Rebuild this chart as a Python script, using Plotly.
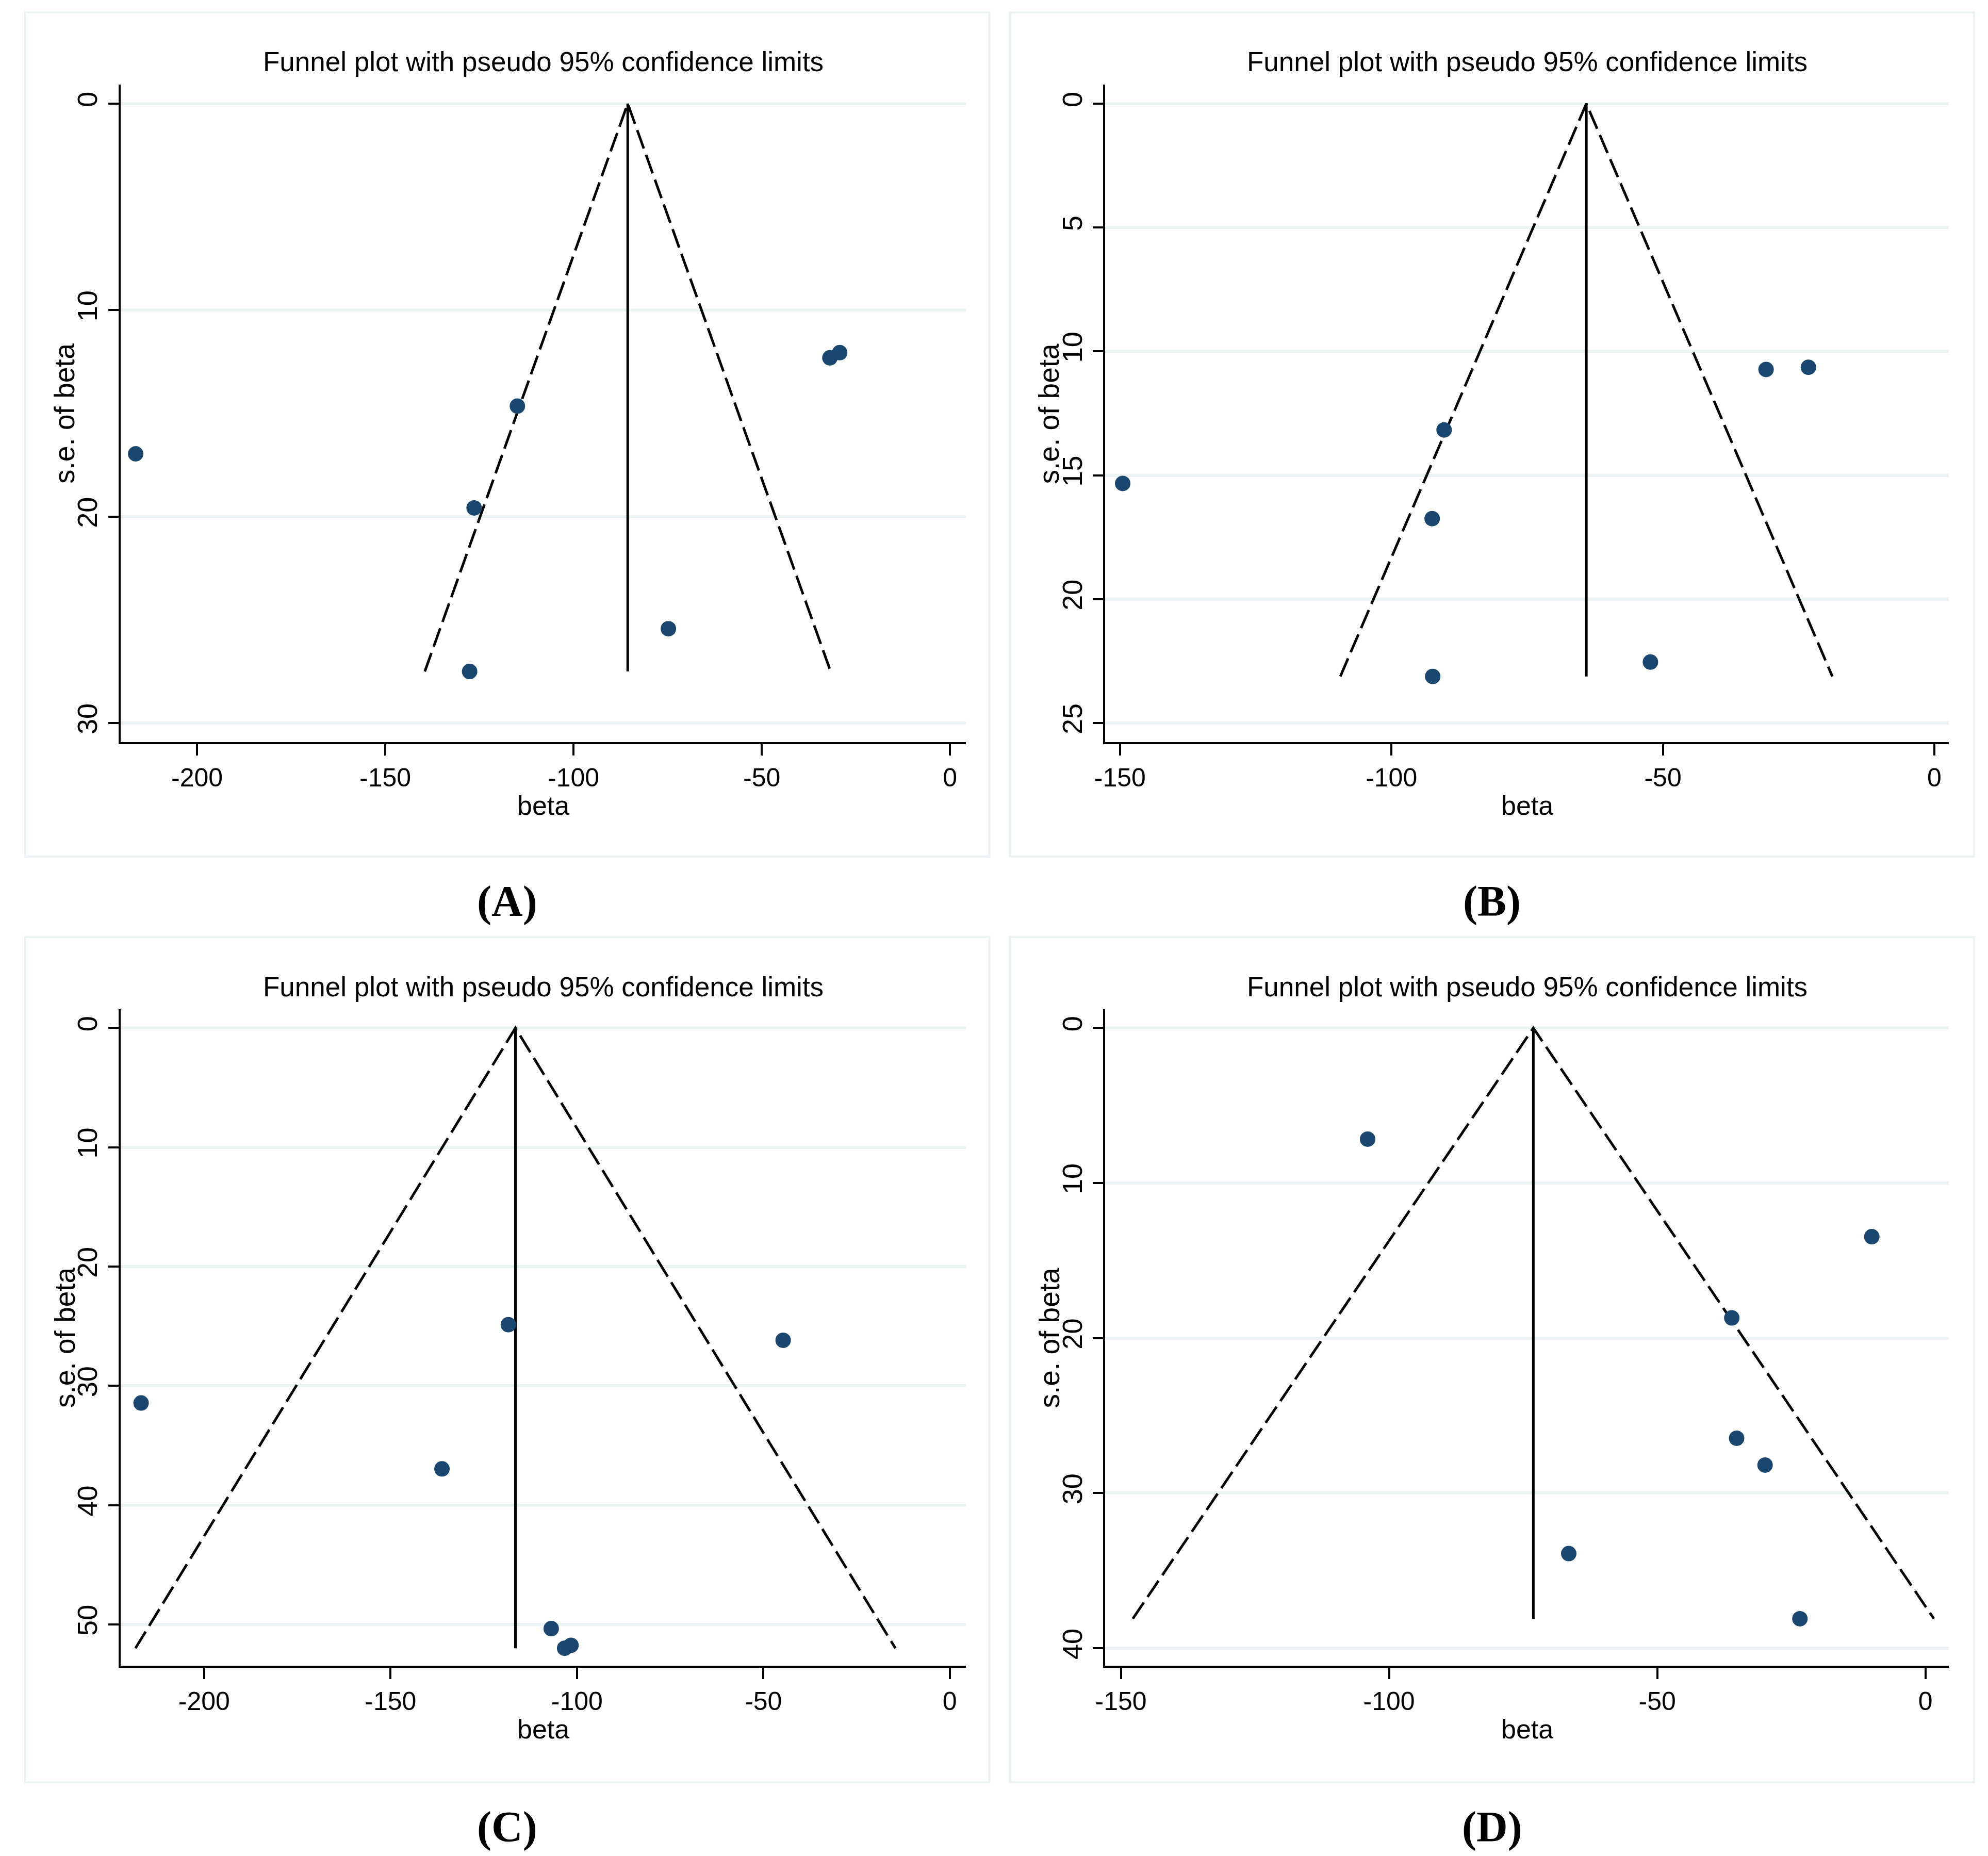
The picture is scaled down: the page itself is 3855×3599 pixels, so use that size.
import plotly.graph_objects as go

W, H = 3855, 3599

# ---------------- data ----------------
panel_labels = ["(A)", "(B)", "(C)", "(D)"]
title_text = "Funnel plot with pseudo 95% confidence limits"
x_title = "beta"
y_title = "s.e. of beta"

A_beta = [-216.3, -114.9, -126.4, -127.6, -74.8, -31.9, -29.3]
A_se = [16.96, 14.65, 19.58, 27.50, 25.43, 12.31, 12.06]
A_theta = -85.6

B_beta = [-149.5, -90.3, -92.5, -92.4, -52.3, -31.0, -23.2]
B_se = [15.33, 13.17, 16.75, 23.12, 22.54, 10.73, 10.64]
B_theta = -64.1

C_beta = [-216.9, -136.2, -118.4, -44.7, -106.9, -103.3, -101.6]
C_se = [31.44, 36.96, 24.87, 26.18, 50.35, 52.00, 51.75]
C_theta = -116.5

D_beta = [-104.0, -10.0, -36.1, -35.2, -29.9, -66.5, -23.4]
D_se = [7.17, 13.46, 18.70, 26.46, 28.19, 33.90, 38.10]
D_theta = -73.1

A_xticks = [-200, -150, -100, -50, 0]
B_xticks = [-150, -100, -50, 0]
C_xticks = [-200, -150, -100, -50, 0]
D_xticks = [-150, -100, -50, 0]
A_yticks = [0, 10, 20, 30]
B_yticks = [0, 5, 10, 15, 20, 25]
C_yticks = [0, 10, 20, 30, 40, 50]
D_yticks = [0, 10, 20, 30, 40]

z95 = 1.96

# ---------------- layout geometry (pixels) ----------------
panels = [
    dict(beta=A_beta, se=A_se, theta=A_theta, xt=A_xticks, yt=A_yticks,
         xr=[-220.3, 4.2], yr=[30.92, -0.92],
         plot=(214, 1862, 164, 1439), frame=(28, 1908, 24, 1661)),
    dict(beta=B_beta, se=B_se, theta=B_theta, xt=B_xticks, yt=B_yticks,
         xr=[-152.7, 2.7], yr=[25.77, -0.77],
         plot=(2134, 3779, 164, 1439), frame=(1948, 3828, 24, 1661)),
    dict(beta=C_beta, se=C_se, theta=C_theta, xt=C_xticks, yt=C_yticks,
         xr=[-222.4, 4.3], yr=[53.46, -1.57],
         plot=(214, 1862, 1957, 3230), frame=(28, 1908, 1817, 3456)),
    dict(beta=D_beta, se=D_se, theta=D_theta, xt=D_xticks, yt=D_yticks,
         xr=[-152.9, 4.4], yr=[41.13, -1.21],
         plot=(2134, 3779, 1957, 3230), frame=(1948, 3828, 1817, 3456)),
]

def fx(px):
    return px / W

def fy(py):
    return 1 - py / H

SANS = "Liberation Sans, Arial, Helvetica, sans-serif"
SERIF = "Liberation Serif, Times New Roman, serif"
NAVY = "#1A476F"
GRID = "#EAF2F3"

fig = go.Figure()
layout = dict(width=W, height=H, margin=dict(l=0, r=0, t=0, b=0),
              paper_bgcolor="white", plot_bgcolor="white",
              showlegend=False, hovermode=False)
shapes = []
annotations = []

for i, p in enumerate(panels):
    k = "" if i == 0 else str(i + 1)
    xa, ya = "x" + k, "y" + k
    se_max = max(p["se"])
    th = p["theta"]
    # pseudo 95% limits (dashed)
    fig.add_trace(go.Scatter(
        x=[th - z95 * se_max, th, th + z95 * se_max], y=[se_max, 0, se_max],
        mode="lines", line=dict(color="black", width=5, dash="38px,13px"),
        xaxis=xa, yaxis=ya))
    # pooled estimate (solid vertical)
    fig.add_trace(go.Scatter(
        x=[th, th], y=[0, se_max], mode="lines",
        line=dict(color="black", width=5), xaxis=xa, yaxis=ya))
    # studies
    fig.add_trace(go.Scatter(
        x=p["beta"], y=p["se"], mode="markers",
        marker=dict(color=NAVY, size=30, line=dict(width=0)),
        xaxis=xa, yaxis=ya))

    l, r, t, b = p["plot"]
    layout["xaxis" + k] = dict(
        domain=[fx(l), fx(r)], range=p["xr"], anchor=ya,
        showline=True, linecolor="black", linewidth=4,
        ticks="outside", ticklen=22, tickwidth=4, tickcolor="black",
        tickvals=p["xt"], ticktext=[str(v) for v in p["xt"]],
        showgrid=False, zeroline=False,
        tickfont=dict(family=SANS, size=50, color="black"),
        ticklabelstandoff=0, fixedrange=True)
    layout["yaxis" + k] = dict(
        domain=[fy(b), fy(t)], range=p["yr"], anchor=xa,
        showline=True, linecolor="black", linewidth=4,
        ticks="outside", ticklen=20, tickwidth=4, tickcolor="black",
        tickvals=p["yt"], ticktext=[str(v) for v in p["yt"]],
        showgrid=True, gridcolor=GRID, gridwidth=6,
        zeroline=False, tickangle=-90,
        tickfont=dict(family=SANS, size=54, color="black"),
        ticklabelstandoff=0, fixedrange=True)

    fl, fr, ft, fb = p["frame"]
    shapes.append(dict(type="rect", xref="paper", yref="paper",
                       x0=fx(fl), x1=fx(fr), y0=fy(fb), y1=fy(ft),
                       line=dict(color=GRID, width=4), layer="below"))
    cx = (l + r) / 2
    annotations.append(dict(text=title_text, x=fx(cx), y=fy(t - 44),
                            xref="paper", yref="paper", showarrow=False,
                            xanchor="center", yanchor="middle",
                            font=dict(family=SANS, size=53, color="black")))
    annotations.append(dict(text=x_title, x=fx(cx), y=fy(b + 123),
                            xref="paper", yref="paper", showarrow=False,
                            xanchor="center", yanchor="middle",
                            font=dict(family=SANS, size=52, color="black")))
    annotations.append(dict(text=y_title, x=fx(fl + 77), y=fy((t + b) / 2),
                            xref="paper", yref="paper", showarrow=False,
                            xanchor="center", yanchor="middle", textangle=-90,
                            font=dict(family=SANS, size=55, color="black")))
    fcx = (fl + fr) / 2
    annotations.append(dict(text="<b>" + panel_labels[i] + "</b>", x=fx(fcx),
                            y=fy(fb + 87), xref="paper", yref="paper",
                            showarrow=False, xanchor="center", yanchor="middle",
                            font=dict(family=SERIF, size=84, color="black")))

layout["shapes"] = shapes
layout["annotations"] = annotations
fig.update_layout(**layout)
fig.write_html("out.html", config={"displayModeBar": False},
               post_script="document.body.style.margin='0px';")
